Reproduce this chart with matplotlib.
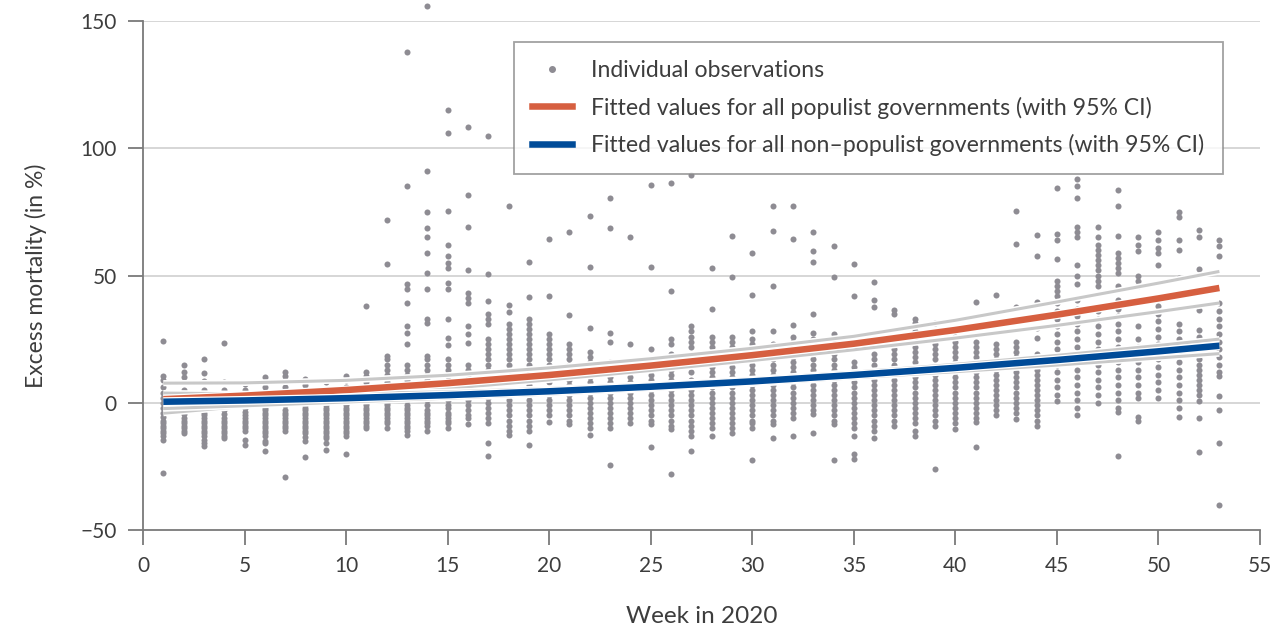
import matplotlib
matplotlib.use("Agg")
import matplotlib.pyplot as plt
import matplotlib.patheffects as pe
from matplotlib.lines import Line2D

plt.rcParams['font.family'] = ['Lato', 'DejaVu Sans']

# weekly excess mortality observations, one list per week
obs_q1 = [  # weeks 1-13
    [24.4, 10.5, 9, 6, 4, 2, 0, -2, -4, -5.5, -7, -8, -9, -10, -11, -12, -13, -14.5, -27.5],
    [15, 12, 10, 8, 5, 3, 1, -1, -3, -4.5, -6, -7, -8, -9, -10, -11, -12],
    [17, 11.5, 8.5, 5, 2, 0, -2, -4, -5, -6, -7, -8, -9, -10, -11, -12, -13, -14.5, -16, -17],
    [23.5, 8, 5, 3, 1, -1, -3, -4.5, -6, -7, -8, -9, -10, -11, -12, -13, -14],
    [7.5, 5, 3, 1, -2, -3.5, -5, -6, -7, -8, -9, -10, -11, -14.5, -16.5],
    [10, 8, 6, 4, 2, 0, -2, -3, -4, -5, -6, -7, -8, -9, -10, -11, -12, -13, -15, -16, -19],
    [12, 10.5, 9, 6, 4, 2, 0, -1, -3, -4, -5, -6, -7, -8, -9, -10, -11, -29],
    [9.5, 7, 5, 3, 1, -1, -2, -3, -4, -5, -6, -7, -8, -9, -10, -11, -12, -13.5, -15, -21.5],
    [8, 5, 3, 1, -1, -2, -3, -4, -5, -6, -7, -8, -9, -10, -11, -12, -13, -14, -16, -18.5],
    [10.5, 9, 6, 4, 2, 0, -1, -2, -3, -4, -5, -6, -7, -8, -9, -10, -11, -12, -13, -20],
    [38, 12, 10.5, 8, 6, 4, 2, 0, -1, -2, -3, -4, -5, -6, -7, -8, -9, -10],
    [72, 54.5, 18.5, 17, 15, 13, 11, 9.5, 8, 6, 4, 2, 0, -1, -2, -3, -4, -5, -6, -7, -8, -10],
    [138, 85, 46.5, 44.5, 39, 30, 27.5, 23, 15, 13, 11, 9, 7, 5, 3, 1, -1, -2, -3, -4, -5,
     -6, -7, -8, -9, -10, -11, -12.5],
]
obs_q2 = [  # weeks 14-26
    [156, 91, 75, 68.5, 65, 59, 51, 44.5, 33, 31.5, 18.5, 17, 15, 13, 11, 9, 7, 5, 3, 1, -1,
     -3, -4, -5, -6, -7, -8, -9, -11],
    [115, 106, 75.5, 62, 57.5, 55, 53, 47, 44.5, 33, 25.5, 22.5, 17, 15, 13, 11, 9, 7, 5, 3,
     1, -1, -2, -4, -5, -6, -7, -8, -10],
    [108.5, 81.5, 69, 52, 43, 41, 39, 30, 27, 23.5, 15, 13, 11, 9, 7, 5, 3, 1, -1, -3, -5, -6, -8.5],
    [105, 50.5, 40, 35, 33, 31, 25, 23, 21, 19, 17, 15, 13, 8.5, 6, 4, 2, 0, -2, -4, -6, -8, -16, -21],
    [77.5, 38.5, 35.5, 31, 29, 27, 25, 23, 21, 19, 17, 15, 13, 5, 3, 1, -1, -3, -5, -7, -9, -11, -12.5],
    [55.5, 41.5, 33, 31, 29, 27, 25, 23, 21, 19, 17, 15, 13, 11, 9, 7, 5, 3, 1, -1, -3, -5,
     -7, -9, -11, -16.5],
    [64.5, 42, 27, 25, 23, 21, 19, 17, 15, 11, 8, 5, 3, 1, -1, -3, -5, -7.5],
    [67, 34.5, 23, 21, 19, 17, 15, 13, 11, 9, 7, 5, 3, 1, -1, -3, -5, -7, -8.5],
    [73.5, 53.5, 29.5, 20, 18, 16, 14, 12, 10, 8, 6, 4, 2, 0, -2, -4, -6, -8, -10, -12.5],
    [80.5, 68.5, 27.5, 24, 16, 14, 12, 10, 8, 6, 4, 2, 0, -2, -4, -6, -8, -10, -24.5],
    [65, 23, 12, 10, 8, 6, 4, 2, 0, -2, -4, -6, -8],
    [85.5, 53.5, 21, 13, 11, 9, 7, 5, 3, 1, -1, -3, -5, -7, -8.5, -17.5],
    [86.5, 44, 25, 23, 19, 17, 15, 13, 11, 9, 7, 5, 3, 1, -1, -3, -5, -7, -9, -10.5, -28],
]
obs_q3 = [  # weeks 27-39
    [89.5, 30, 28, 26, 24, 22, 18, 15, 12, 9, 7, 5, 3, 1, -1, -3, -5, -7, -9, -11, -13, -19],
    [53, 37, 26, 24, 22, 20, 16, 14, 12, 10, 8, 6, 4, 2, 0, -2, -4, -6, -8, -10, -13],
    [65.5, 49.5, 26, 24, 22, 20, 18, 16, 14, 12, 10, 8, 6, 4, 2, 0, -2, -4, -6, -8, -10, -12],
    [59, 42.5, 28, 25, 23, 19, 17, 15, 13, 11, 9, 7, 5, 3, 1, -1, -3, -5, -7, -8, -10, -22.5],
    [77.5, 67.5, 46, 28, 23, 21, 19, 17, 15, 13, 11, 9, 7, 5, 3, 1, -1, -3, -5, -7, -8.5, -14],
    [77.5, 64.5, 30.5, 26, 24, 22, 20, 18, 16, 14, 12, 10, 8, 6, 4, 2, 0, -2, -4, -6, -13],
    [67, 59.5, 55.5, 35, 27.5, 25, 23, 21, 19, 17, 15, 13, 11, 9, 7, 5, 3, 1, -1, -3, -4.5, -12],
    [61.5, 49.5, 27, 25, 23, 21, 19, 17, 15, 13, 11, 9, 7, 5, 3, 1, -1, -3, -5, -7, -8.5, -22.5],
    [54.5, 42, 16, 14, 12, 10, 8, 6, 4, 2, 0, -2, -4, -6, -8, -10, -13, -20, -22],
    [47.5, 40.5, 37.5, 19, 17, 15, 13, 11, 9, 7, 5, 3, 1, -1, -3, -5, -7, -9, -11, -14],
    [36.5, 35, 21, 19, 17, 15, 13, 11, 9, 7, 5, 3, 1, -1, -3, -5, -7, -9],
    [33, 31.5, 30, 28, 26, 24, 22, 20, 18, 16, 14, 12, 10, 8, 6, 4, 2, 0, -2, -4, -6, -8, -11, -13],
    [31.5, 23, 21, 19, 17, 15, 13, 11, 9, 7, 5, 3, 1, -1, -3, -5, -7, -9, -26],
]
obs_q4 = [  # weeks 40-53
    [28, 26, 24, 22, 20, 18, 16, 14, 12, 10, 8, 6, 4, 2, 0, -2, -4, -6, -8, -10.5],
    [39.5, 24, 22, 20, 18, 16, 14, 12, 10, 8, 6, 4, 2, 0, -2, -4, -6, -7.5, -17.5],
    [42.5, 23, 21, 19, 17, 15, 13, 11, 9, 7, 5, 3, 1, -1, -3, -5],
    [75.5, 62.5, 37.5, 24, 22, 20, 18, 16, 14, 12, 10, 8, 6, 4, 2, 0, -2, -4, -6.5],
    [66, 57.5, 39.5, 29.5, 25.5, 19, 17, 15, 13, 11, 9, 7, 5, 3, 1, -1, -3, -5, -7, -9],
    [84.5, 66.5, 64, 56.5, 48, 46, 44, 42, 39, 36, 33, 30, 27, 24, 21, 18, 15, 12, 9, 6, 3, 0.5],
    [88, 85, 80.5, 69, 67, 65, 54, 50, 46.5, 40.5, 37, 34, 31, 28, 25, 22, 19, 16, 13, 10, 7,
     4, 1, -2, -5],
    [69, 65, 62, 60, 58, 56, 54, 52, 50, 48, 46, 36, 33, 30, 27, 24, 21, 18, 15, 12, 9, 6, 3, 0],
    [83.5, 77.5, 65.5, 59, 57, 55, 53, 51, 46, 40.5, 37, 34, 31, 28, 25, 22, 19, 16, 13, 10,
     7, 4, 1, -2, -3.5, -21],
    [65, 62, 59.5, 50, 48, 46, 30, 25, 22, 19, 16, 13, 10, 7, 4, 2, -5.5, -7],
    [67, 64, 61, 59, 54, 38, 35, 32, 29, 26, 23, 20, 17, 14, 11, 8, 5, 2],
    [75, 73, 64, 60, 49, 42.5, 31, 28, 25, 22, 19, 16, 13, 10, 7, 4, 1, -2, -5.5],
    [68, 65, 52.5, 36.5, 28.5, 26, 17, 15, 13, 11, 9, 7, 5, 3, 0.5, -6, -19.5],
    [64, 61.5, 57.5, 39, 36, 33, 30, 27, 24, 21, 18, 15, 12, 10.5, 2.5, -3, -16, -40],
]

# fitted values and 95% confidence bands
fit_weeks = [1, 5, 10, 15, 20, 25, 30, 35, 40, 45, 50, 53]
pop_fit = [1.4, 2.8, 5.0, 7.7, 10.9, 14.6, 18.7, 23.2, 28.6, 34.6, 41.0, 45.1]
pop_hi = [7.7, 7.8, 8.8, 10.8, 13.7, 17.3, 21.4, 26.1, 32.4, 39.6, 47.0, 51.6]
pop_lo = [-4.1, -1.4, 2.0, 5.6, 9.0, 12.7, 16.6, 20.8, 25.4, 30.4, 35.8, 39.2]
nonpop_fit = [0.4, 0.9, 1.8, 3.0, 4.5, 6.3, 8.4, 10.9, 13.7, 16.8, 20.2, 22.4]
nonpop_hi = [3.8, 3.5, 3.6, 4.3, 5.6, 7.3, 9.4, 12.0, 15.1, 18.6, 22.5, 25.0]
nonpop_lo = [-2.3, -1.2, 0.3, 1.8, 3.4, 5.3, 7.4, 9.8, 12.2, 14.8, 17.6, 19.3]

DOT = '#8e8c93'
ORANGE = '#d65f40'
BLUE = '#004b98'
CI = '#c8c8c8'
TXT = '#3d3d3d'
AXC = '#7a7a7a'

xs, ys = [], []
for start, block in [(1, obs_q1), (14, obs_q2), (27, obs_q3), (40, obs_q4)]:
    for i, vals in enumerate(block):
        xs += [start + i] * len(vals)
        ys += vals

fig = plt.figure(figsize=(12.72, 6.3), dpi=100)
ax = fig.add_axes([143 / 1272, 1 - 530 / 630, 1117 / 1272, 509 / 630])

ax.scatter(xs, ys, s=19, color=DOT, linewidths=0, zorder=2, clip_on=False)

halo = [pe.Stroke(linewidth=4.5, foreground='white'), pe.Normal()]
for band in [pop_hi, pop_lo, nonpop_hi, nonpop_lo]:
    ax.plot(fit_weeks, band, color=CI, lw=2.2, zorder=3, path_effects=halo,
            solid_capstyle='butt')
thick_halo = [pe.Stroke(linewidth=6.5, foreground='white'), pe.Normal()]
ax.plot(fit_weeks, pop_fit, color=ORANGE, lw=4.7, zorder=4, path_effects=thick_halo,
        solid_capstyle='butt')
ax.plot(fit_weeks, nonpop_fit, color=BLUE, lw=4.7, zorder=4, path_effects=thick_halo,
        solid_capstyle='butt')

ax.set_xlim(0, 55)
ax.set_ylim(-50, 150)
ax.set_xticks(range(0, 56, 5))
ax.set_yticks([-50, 0, 50, 100, 150])
ax.set_yticklabels(['\u221250', '0', '50', '100', '150'])
for y in [0, 50, 100, 150]:
    ax.axhline(y, color='#d0d0d0', lw=1.2, zorder=1)

for side in ['top', 'right']:
    ax.spines[side].set_visible(False)
for side in ['left', 'bottom']:
    ax.spines[side].set_color(AXC)
    ax.spines[side].set_linewidth(1.3)
ax.tick_params(axis='both', length=11, width=1.3, color=AXC, labelsize=15,
               labelcolor=TXT, pad=8)

ax.set_xlabel('Week in 2020', fontsize=17.5, color=TXT, labelpad=21)
ax.set_ylabel('Excess mortality (in %)', fontsize=16.5, color=TXT, labelpad=24)

handles = [
    Line2D([], [], marker='o', linestyle='none', markersize=4, color=DOT),
    Line2D([], [], color=ORANGE, lw=4.7),
    Line2D([], [], color=BLUE, lw=4.7),
]
labels = [
    'Individual observations',
    'Fitted values for all populist governments (with 95% CI)',
    'Fitted values for all non\u2013populist governments (with 95% CI)',
]
leg = ax.legend(handles, labels, loc='upper left', bbox_to_anchor=(514 / 1272, 1 - 42 / 630),
                bbox_transform=fig.transFigure, fontsize=16.6, frameon=True, fancybox=False,
                handlelength=1.7, handletextpad=0.85, labelspacing=0.65, borderpad=0.8,
                borderaxespad=0)
leg.get_frame().set_edgecolor('#8a8a8a')
leg.get_frame().set_linewidth(1.3)
leg.set_zorder(6)
for t in leg.get_texts():
    t.set_color(TXT)

fig.savefig('out.png', dpi=100)
